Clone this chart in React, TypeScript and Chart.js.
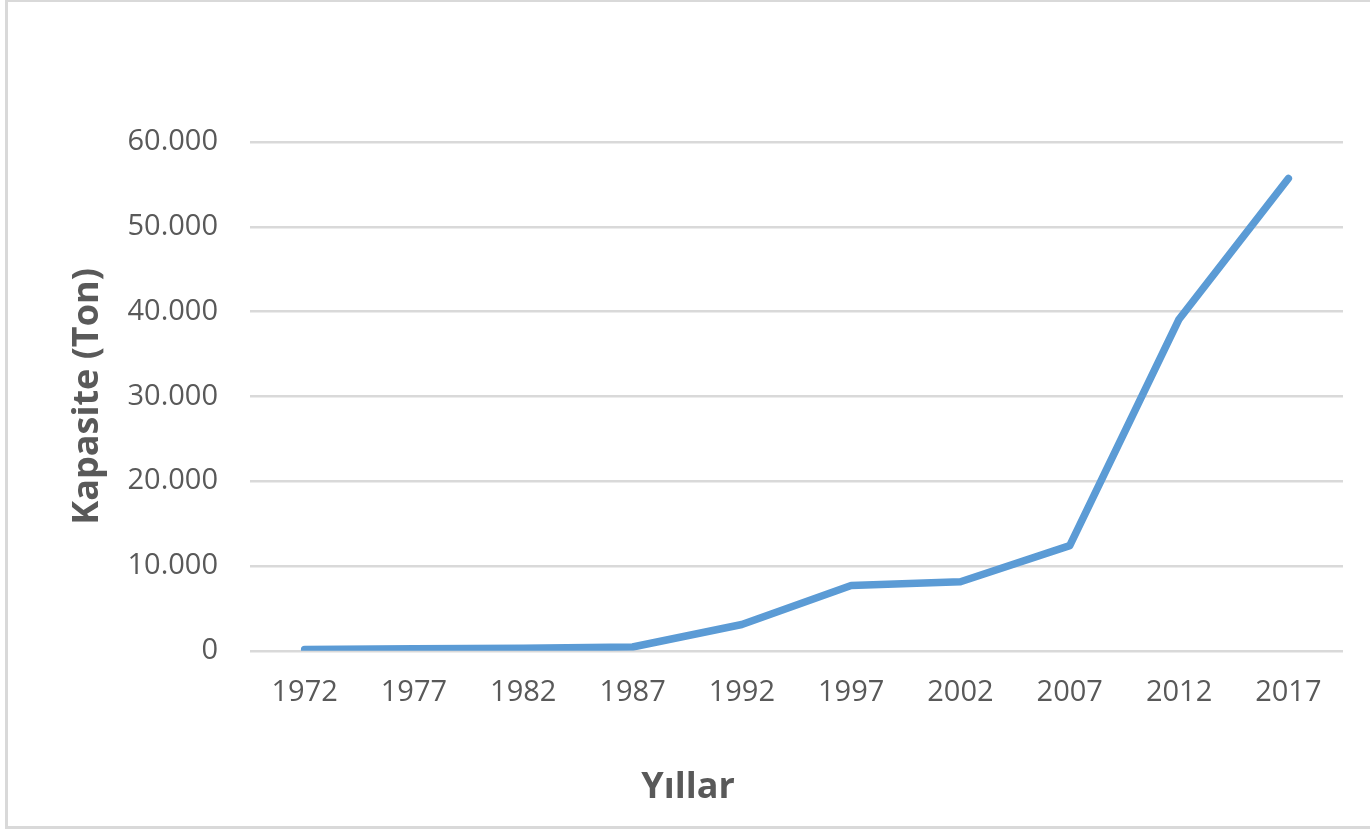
import React, { useEffect, useRef } from "react";
import { Chart, registerables } from "chart.js";

Chart.register(...registerables);

const years = ["1972", "1977", "1982", "1987", "1992", "1997", "2002", "2007", "2012", "2017"];
const capacity = [150, 250, 300, 450, 3100, 7700, 8150, 12400, 39100, 55700];
const yTitle = "Kapasite (Ton)";
const xTitle = "Yıllar";

const textColor = "#595959";
const gridColor = "#d9d9d9";
const lineColor = "#5b9bd5";
const family = "'Open Sans', 'Liberation Sans', sans-serif";

function formatThousands(v: number): string {
  const s = Math.round(v).toString();
  return s.replace(/\B(?=(\d{3})+(?!\d))/g, ".");
}

export default function App() {
  const ref = useRef<HTMLCanvasElement | null>(null);

  useEffect(() => {
    document.body.style.margin = "0";
    document.body.style.overflow = "hidden";
    const canvas = ref.current;
    if (!canvas) return;
    const chart = new Chart(canvas, {
      type: "line",
      data: {
        labels: years,
        datasets: [
          {
            data: capacity,
            borderColor: lineColor,
            borderWidth: 7.5,
            borderCapStyle: "round",
            borderJoinStyle: "round",
            pointRadius: 0,
            pointHoverRadius: 0,
            tension: 0,
            fill: false,
          },
        ],
      },
      options: {
        animation: false,
        responsive: false,
        maintainAspectRatio: false,
        layout: { padding: { top: 142, right: 27, left: 33, bottom: 0 } },
        plugins: {
          legend: { display: false },
          tooltip: { enabled: false },
          title: {
            display: true,
            position: "bottom",
            text: xTitle,
            color: textColor,
            font: { family, size: 36, weight: "bold" },
            padding: { top: 4, bottom: 20 },
          },
        },
        scales: {
          x: {
            type: "category",
            offset: true,
            grid: { display: false, drawTicks: false },
            border: { display: false },
            ticks: {
              color: textColor,
              font: { family, size: 29 },
              padding: 25,
              maxRotation: 0,
              autoSkip: false,
            },
            afterFit: (s: any) => {
              s.height = 111;
            },
          },
          y: {
            min: 0,
            max: 60000,
            grid: { color: gridColor, lineWidth: 2.5, drawTicks: false },
            border: { display: false },
            ticks: {
              stepSize: 10000,
              color: textColor,
              font: { family, size: 29 },
              padding: 32,
              callback: (v: any) => formatThousands(Number(v)),
            },
            title: {
              display: true,
              text: yTitle,
              color: textColor,
              font: { family, size: 36, weight: "bold" },
              padding: { top: 33, bottom: 0 },
            },
            afterFit: (s: any) => {
              s.width = 217;
            },
          },
        },
      },
    });
    return () => chart.destroy();
  }, []);

  return (
    <div style={{ position: "fixed", left: 0, top: 0, width: 1370, height: 829, background: "#fff" }}>
      <canvas ref={ref} width={1370} height={829} style={{ position: "absolute", left: 0, top: 0 }} />
      <div
        style={{
          position: "absolute",
          left: 5,
          top: 0,
          width: 1400,
          height: 829,
          boxSizing: "border-box",
          borderLeft: "3px solid #d9d9d9",
          borderTop: "2px solid #d9d9d9",
          borderBottom: "3px solid #d9d9d9",
          pointerEvents: "none",
        }}
      />
    </div>
  );
}
